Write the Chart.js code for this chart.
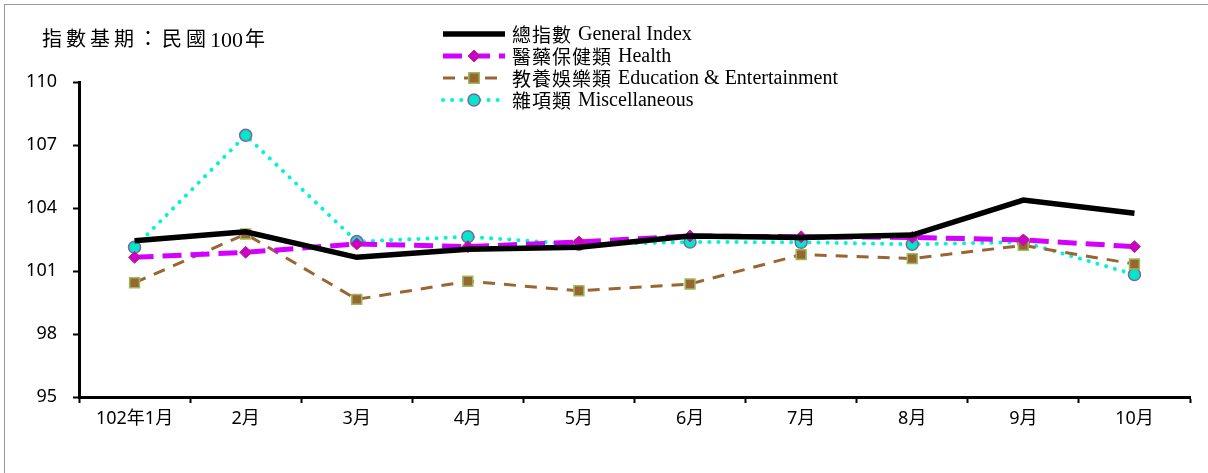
<!DOCTYPE html>
<html>
<head>
<meta charset="utf-8">
<script src="https://cdn.jsdelivr.net/npm/chart.js@4.4.0/dist/chart.umd.min.js"></script>
<style>
  html, body { margin: 0; padding: 0; background: #fff; }
  .frame { position: absolute; left: 4px; top: 4px; width: 1210px; height: 475px;
           border-left: 1px solid #999; border-top: 1px solid #999; }
  .wrap { position: absolute; left: 0; top: 0; width: 1208px; height: 473px; }
</style>
</head>
<body>
<div class="frame"></div>
<div class="wrap"><canvas id="cpiChart" width="1208" height="473"></canvas></div>
<script>
const months = ['102年1月', '2月', '3月', '4月', '5月', '6月', '7月', '8月', '9月', '10月'];
const generalIndex = [102.44, 102.87, 101.65, 102.03, 102.13, 102.67, 102.60, 102.71, 104.38, 103.75];
const health = [101.65, 101.89, 102.29, 102.16, 102.38, 102.67, 102.63, 102.60, 102.48, 102.16];
const education = [100.44, 102.76, 99.65, 100.51, 100.06, 100.38, 101.78, 101.59, 102.22, 101.33];
const misc = [102.13, 107.46, 102.40, 102.63, 102.27, 102.38, 102.37, 102.27, 102.38, 100.83];
const yTicks = [95, 98, 101, 104, 107, 110];

const baseTitle = ['指數基期：民國', '100', '年'];
const legendLabels = ['總指數 General Index', '醫藥保健類 Health', '教養娛樂類 Education & Entertainment', '雜項類 Miscellaneous'];

const serif = '"Liberation Serif", "Noto Sans CJK TC", serif';
const sans = '"Noto Sans", "Noto Sans CJK TC", sans-serif';

// draws the title and the legend box by hand, like the original sheet
const overlay = {
    id: 'overlay',
    afterDraw(chart) {
        const ctx = chart.ctx;
        ctx.save();
        ctx.fillStyle = '#000';
        ctx.textBaseline = 'middle';
        let tx = 42;
        baseTitle.forEach((part, i) => {
            ctx.font = (i === 1 ? '22px ' : '20px ') + serif;
            ctx.letterSpacing = i === 1 ? '0px' : '4px';
            ctx.fillText(part, tx, 41);
            tx += ctx.measureText(part).width + (i === 1 ? 2 : 0);
        });
        ctx.letterSpacing = '0px';

        const ds = chart.data.datasets;
        ds.forEach((d, i) => {
            const y = 34 + i * 22;
            const x0 = 443, x1 = 505;
            ctx.save();
            ctx.strokeStyle = d.borderColor;
            ctx.lineWidth = d.borderWidth;
            ctx.lineCap = d.borderCapStyle || 'butt';
            ctx.setLineDash(d.borderDash || []);
            ctx.beginPath();
            ctx.moveTo(x0, y);
            ctx.lineTo(x1, y);
            ctx.stroke();
            ctx.restore();
            if (d.pointRadius > 0) {
                const cx = (x0 + x1) / 2, r = d.pointRadius;
                ctx.save();
                ctx.fillStyle = d.pointBackgroundColor;
                ctx.strokeStyle = d.pointBorderColor;
                ctx.lineWidth = d.pointBorderWidth;
                ctx.beginPath();
                if (d.pointStyle === 'rectRot') {
                    ctx.moveTo(cx, y - r); ctx.lineTo(cx + r, y); ctx.lineTo(cx, y + r); ctx.lineTo(cx - r, y); ctx.closePath();
                } else if (d.pointStyle === 'rect') {
                    ctx.rect(cx - r * 0.75, y - r * 0.75, r * 1.5, r * 1.5);
                } else {
                    ctx.arc(cx, y, r, 0, Math.PI * 2);
                }
                ctx.fill();
                ctx.stroke();
                ctx.restore();
            }
            // CJK part a bit wider, latin part in serif
            const parts = legendLabels[i].split(' ');
            const cjk = parts.shift();
            ctx.font = '19px "Noto Sans CJK TC", sans-serif';
            ctx.letterSpacing = '1px';
            ctx.fillText(cjk, 512, y + 1);
            const w = ctx.measureText(cjk).width;
            ctx.letterSpacing = '0px';
            ctx.font = '20px ' + serif;
            ctx.fillText(parts.join(' '), 512 + w + 6, y + 1);
        });
        ctx.restore();
    }
};

const ctx = document.getElementById('cpiChart').getContext('2d');
new Chart(ctx, {
    type: 'line',
    data: {
        labels: months,
        datasets: [
            {
                label: legendLabels[0],
                data: generalIndex,
                borderColor: '#000000',
                borderWidth: 5.5,
                pointRadius: 0,
                tension: 0
            },
            {
                label: legendLabels[1],
                data: health,
                borderColor: '#D400FF',
                borderWidth: 5,
                borderDash: [19, 9],
                pointStyle: 'rectRot',
                pointRadius: 6,
                pointBackgroundColor: '#CC00CC',
                pointBorderColor: '#B03060',
                pointBorderWidth: 1,
                tension: 0
            },
            {
                label: legendLabels[2],
                data: education,
                borderColor: '#996633',
                borderWidth: 3,
                borderDash: [12, 9],
                pointStyle: 'rect',
                pointRadius: 7,
                pointBackgroundColor: '#996633',
                pointBorderColor: '#9BBB59',
                pointBorderWidth: 1.5,
                tension: 0
            },
            {
                label: legendLabels[3],
                data: misc,
                borderColor: '#00F5D4',
                borderWidth: 4,
                borderDash: [0.1, 9],
                borderCapStyle: 'round',
                pointStyle: 'circle',
                pointRadius: 6,
                pointBackgroundColor: '#00E8C8',
                pointBorderColor: '#8064A2',
                pointBorderWidth: 1.5,
                tension: 0
            }
        ]
    },
    options: {
        responsive: false,
        animation: false,
        layout: { padding: { left: 0, right: 18, top: 82, bottom: 0 } },
        plugins: {
            legend: { display: false },
            tooltip: { enabled: false }
        },
        scales: {
            x: {
                offset: true,
                grid: { display: true, drawOnChartArea: false, offset: true, tickLength: 6, tickWidth: 2, color: '#000' },
                border: { display: true, color: '#000', width: 3 },
                ticks: { color: '#000', font: { family: sans, size: 18 }, padding: 5, maxRotation: 0 },
                afterFit(scale) { scale.height = 76; }
            },
            y: {
                min: 95,
                max: 110,
                afterBuildTicks(scale) { scale.ticks = yTicks.map(v => ({ value: v })); },
                grid: { display: true, drawOnChartArea: false, tickLength: 6, tickWidth: 2, color: '#000' },
                border: { display: true, color: '#000', width: 3 },
                ticks: { color: '#000', font: { family: sans, size: 18 }, padding: 16 },
                afterFit(scale) { scale.width = 79; }
            }
        }
    },
    plugins: [overlay]
});
</script>
</body>
</html>
